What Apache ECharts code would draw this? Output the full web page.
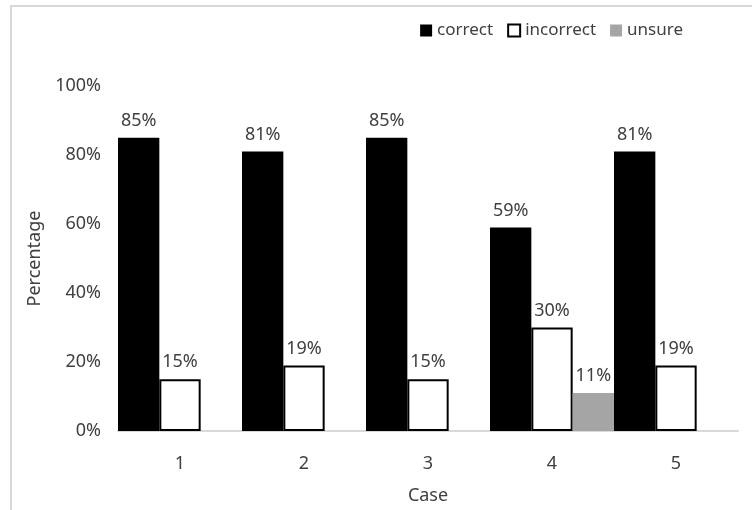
<!DOCTYPE html>
<html>
<head>
<meta charset="utf-8">
<script src="https://cdn.jsdelivr.net/npm/echarts@6/dist/echarts.min.js"></script>
<style>
  html, body { margin: 0; padding: 0; background: #fff; }
  #chart { width: 752px; height: 510px; }
</style>
</head>
<body>
<div id="chart"></div>
<script>
// Share of answers per case
const cases = ['1', '2', '3', '4', '5'];
const correct = [85, 81, 85, 59, 81];
const incorrect = [15, 19, 15, 30, 19];
const unsure = [0, 0, 0, 11, 0];
const yTicks = [0, 20, 40, 60, 80, 100];

const FONT = '"Noto Sans", "Open Sans", sans-serif';
const TEXT = '#404040';

const valueLabel = {
  show: true,
  position: 'top',
  distance: 8,
  fontFamily: FONT,
  fontSize: 18,
  color: TEXT,
  formatter: p => (p.value ? p.value + '%' : '')
};

const chart = echarts.init(document.getElementById('chart'), null, { renderer: 'canvas' });
chart.setOption({
  backgroundColor: '#fff',
  animation: false,
  graphic: [{
    type: 'rect',
    silent: true,
    shape: { x: 11, y: 6, width: 800, height: 600 },
    style: { fill: 'none', stroke: '#d9d9d9', lineWidth: 2 }
  }],
  legend: {
    top: 17,
    right: 64,
    itemWidth: 12,
    itemHeight: 12,
    itemGap: 14,
    icon: 'rect',
    textStyle: { fontFamily: FONT, fontSize: 17, color: TEXT },
    data: [
      { name: 'correct', itemStyle: { color: '#000', borderWidth: 0 } },
      { name: 'incorrect', itemStyle: { color: '#fff', borderColor: '#000', borderWidth: 2 } },
      { name: 'unsure', itemStyle: { color: '#a5a5a5', borderWidth: 0 } }
    ]
  },
  grid: { left: 118, right: 14, top: 86, bottom: 78 },
  xAxis: {
    type: 'category',
    data: cases,
    name: 'Case',
    nameLocation: 'middle',
    nameGap: 56,
    nameTextStyle: { fontFamily: FONT, fontSize: 18, color: TEXT },
    axisLine: { lineStyle: { color: '#d9d9d9', width: 2 } },
    axisTick: { show: false },
    axisLabel: { fontFamily: FONT, fontSize: 18, color: TEXT, margin: 24 }
  },
  yAxis: {
    type: 'value',
    min: yTicks[0],
    max: yTicks[yTicks.length - 1],
    interval: 20,
    name: 'Percentage',
    nameLocation: 'middle',
    nameGap: 72,
    nameTextStyle: { fontFamily: FONT, fontSize: 18, color: TEXT },
    axisLine: { show: false },
    axisTick: { show: false },
    splitLine: { show: false },
    axisLabel: { fontFamily: FONT, fontSize: 18, color: TEXT, margin: 17, formatter: '{value}%' }
  },
  series: [
    {
      name: 'correct', type: 'bar', data: correct,
      barGap: '0%', barCategoryGap: '0%',
      itemStyle: { color: '#000' },
      label: valueLabel
    },
    {
      name: 'incorrect', type: 'bar', data: incorrect,
      barGap: '0%', barCategoryGap: '0%',
      itemStyle: { color: '#fff', borderColor: '#000', borderWidth: 2 },
      label: valueLabel
    },
    {
      name: 'unsure', type: 'bar', data: unsure,
      barGap: '0%', barCategoryGap: '0%',
      itemStyle: { color: '#a5a5a5' },
      label: valueLabel
    }
  ]
});
</script>
</body>
</html>
